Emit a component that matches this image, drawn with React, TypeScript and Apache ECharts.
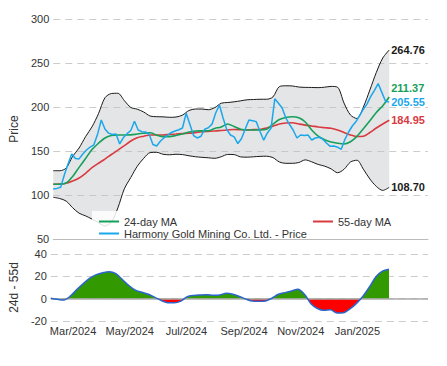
import React, { useEffect, useRef } from 'react';
import * as echarts from 'echarts';

// ---- time layout of the data ----
const startYear = 2024;
const startMonth = 1; // February (0-based)
const startDay = 6;
const priceStepDays = 4;
const weeklyStepDays = 7;
const axisEndDays = 406;
const tickLabelDates = ['2024-03-01', '2024-05-01', '2024-07-01', '2024-09-01', '2024-11-01', '2025-01-01'];
const monthNames = ['Jan', 'Feb', 'Mar', 'Apr', 'May', 'Jun', 'Jul', 'Aug', 'Sep', 'Oct', 'Nov', 'Dec'];

// ---- series values ----
const price = [
  106.8, 107.5, 108.7, 122.7, 135.2, 146.6, 141.4, 141, 146.6, 151.1,
  154.5, 157, 168.9, 185.2, 175, 170.3, 168.8, 169.3, 158, 165.3,
  169.7, 173.3, 183.8, 173.9, 172, 171.6, 168.8, 157.4, 155.7, 161,
  165, 168, 171.1, 172.7, 174.2, 176.1, 192.8, 180.3, 167.5, 164.8,
  166.7, 174.7, 176.4, 180.5, 193.2, 202.3, 187.5, 174.3, 168.2, 166,
  158.5, 164.2, 175, 185.2, 184.5, 183.3, 172.2, 162.3, 170.5, 176.1,
  209.3, 204.2, 198.9, 187.5, 180.1, 173.6, 164.8, 168.2, 167.5, 168.2,
  162.5, 164.8, 165.6, 163.4, 159.1, 155.3, 155.7, 154.3, 151.9, 163.3,
  171.6, 178.4, 183.5, 190.6, 197.5, 203.6, 212, 218.9, 226.6, 216.6,
  206.5, 205.55,
];

const upperBand = [
  127.6, 127.6, 130.6, 143.9, 153.4, 166.3, 177.5, 192.4, 210.5, 215.3,
  215.6, 207.3, 199.5, 197.5, 194.3, 189.7, 189, 188.8, 188.3, 188.6,
  190.8, 196, 197.7, 197.7, 196.9, 199.3, 204.3, 205.1, 205.9, 207,
  208.2, 208.5, 208.8, 208.8, 211.4, 223.2, 224.1, 223.9, 222.7, 222.3,
  222.2, 222, 222.5, 223.4, 222.5, 204.5, 190.9, 186.9, 200, 219.3,
  239.2, 255.7, 264.76,
];

const lowerBand = [
  97.4, 96, 93.1, 85.5, 79.3, 76.3, 72.6, 68.6, 64.8, 69.1,
  85.3, 107, 119.9, 132.6, 141.7, 148.2, 148.5, 146.3, 145.7, 146.3,
  145.9, 144.6, 143.5, 142.8, 142.3, 141.7, 143.5, 146.1, 145.9, 143.3,
  143, 143.4, 143.9, 144.1, 142.5, 137.5, 136, 136, 136.9, 139.9,
  137.7, 134.7, 132.8, 129.7, 125.3, 129.2, 137.5, 139.5, 129.3, 118.2,
  109.8, 105.2, 108.7,
];

const ma24 = [
  112.2, 112.3, 113.6, 121, 131.4, 141.5, 151.6, 158.8, 164.8, 167.7,
  168.2, 168.2, 168.3, 169.3, 170.1, 170.7, 168.1, 166.3, 166.3, 167.7,
  169.3, 171.5, 172.7, 172.9, 173, 175.6, 177.3, 180.7, 177.8, 174.7,
  173.9, 173.9, 173.9, 174.7, 180.5, 185.7, 188.1, 188.9, 187.7, 183,
  173.9, 166.8, 162.8, 160.2, 158.8, 158, 160.5, 166.6, 175.3, 184.3,
  193.8, 201.5, 211.37,
];

const ma55 = [
  112.2, 112.4, 113.3, 115.8, 119.3, 124.7, 131, 136.1, 140.8, 146,
  151, 156.1, 161.3, 165.1, 166.8, 168.2, 168.2, 168.2, 168.8, 169.3,
  169.8, 170.1, 170.9, 171.9, 172.3, 172.7, 173.3, 173.9, 174.5, 174.2,
  173.9, 174.3, 174.5, 176.1, 178.1, 180.7, 181.8, 182.1, 180.7, 179.4,
  178.4, 177.3, 176.5, 175.8, 173.9, 171, 168.3, 166.4, 166.8, 171,
  176.1, 180.7, 184.95,
];

const maDiff = [
  0.3, -0.6, -1.2, 2.2, 8.1, 13.5, 18.4, 21.5, 23.3, 24.2,
  22.4, 17.2, 11.8, 7.6, 5.7, 3.9, 1.1, -1.7, -3.6, -3.7,
  -2.2, 1.8, 2.9, 3.3, 3.5, 3, 3.3, 4.9, 4, 2,
  -0.4, -2.2, -2.4, -2, 0.4, 3.9, 5.4, 6.8, 8.5, 4,
  -4.5, -8.8, -10.4, -9.9, -12.8, -12.6, -9.2, -4.2, 2.2, 10.5,
  19.7, 24.7, 26.42,
];

const PRICE_NAME = 'Harmony Gold Mining Co. Ltd. - Price';
const MA24_NAME = '24-day MA';
const MA55_NAME = '55-day MA';

const pad = (n: number) => (n < 10 ? '0' + n : '' + n);
const dayKey = (d: number) => {
  const dt = new Date(startYear, startMonth, startDay + d);
  return dt.getFullYear() + '-' + pad(dt.getMonth() + 1) + '-' + pad(dt.getDate());
};
const allDays = Array.from({ length: axisEndDays + 1 }, (_, d) => dayKey(d));

const weekly = (arr: number[]) => arr.map((v, i) => [dayKey(i * weeklyStepDays), v]);
const fmt2 = (p: any) => Number(p.value[1]).toFixed(2);

export default function App() {
  const ref = useRef<HTMLDivElement>(null);

  useEffect(() => {
    if (!ref.current) return;
    const chart = echarts.init(ref.current, undefined, { renderer: 'svg' });
    const font = 'Liberation Sans, Arial, sans-serif';

    const endLabel = (color: string, offset: number[] = [0, 0]) => ({
      show: true,
      formatter: fmt2,
      color,
      fontWeight: 'bold',
      fontSize: 11,
      fontFamily: font,
      distance: 2,
      offset,
    });

    const splitLine = { show: true, lineStyle: { color: '#cccccc', type: [7, 5], width: 1 } };
    const sm = 0.3;

    const option: any = {
      animation: false,
      textStyle: { fontFamily: font },
      grid: [
        { left: 49, right: 19, top: 19, height: 220 },
        { left: 49, right: 19, top: 254, height: 67 },
      ],
      xAxis: [
        {
          type: 'category', gridIndex: 0, data: allDays, boundaryGap: false,
          axisLabel: { show: false }, axisTick: { show: false },
          axisLine: { show: true, onZero: false, lineStyle: { color: '#bbbbbb' } },
          splitLine: { show: false },
        },
        {
          type: 'category', gridIndex: 1, data: allDays, boundaryGap: false,
          axisLabel: {
            interval: (_i: number, v: string) => tickLabelDates.indexOf(v) >= 0,
            formatter: (v: string) => {
              const [y, m] = v.split('-').map(Number);
              return monthNames[m - 1] + '/' + y;
            },
            fontSize: 11, color: '#333', margin: 4, fontFamily: font,
          },
          axisTick: { show: false },
          axisLine: { show: false, onZero: false },
          splitLine: { show: false },
        },
      ],
      yAxis: [
        {
          type: 'value', gridIndex: 0, min: 50, max: 300, interval: 50,
          name: 'Price', nameLocation: 'middle', nameGap: 21,
          nameTextStyle: { fontSize: 12, color: '#333', fontFamily: font },
          axisLabel: { fontSize: 11, color: '#333', margin: 4, fontFamily: font },
          axisLine: { show: false }, axisTick: { show: false },
          splitLine,
        },
        {
          type: 'value', gridIndex: 1, min: -20, max: 40, interval: 20,
          name: '24d - 55d', nameLocation: 'middle', nameGap: 17,
          nameTextStyle: { fontSize: 12, color: '#333', fontFamily: font },
          axisLabel: { fontSize: 11, color: '#333', margin: 4, fontFamily: font },
          axisLine: { show: false }, axisTick: { show: false },
          splitLine,
        },
      ],
      legend: [
        {
          data: [MA24_NAME, PRICE_NAME], orient: 'vertical', left: 94, top: 211,
          icon: 'rect', itemWidth: 20, itemHeight: 2, itemGap: 1, z: 20,
          textStyle: { fontSize: 11, color: '#333', fontFamily: font },
        },
        {
          data: [MA55_NAME], orient: 'vertical', left: 308, top: 211,
          icon: 'rect', itemWidth: 20, itemHeight: 2, itemGap: 1, z: 20,
          textStyle: { fontSize: 11, color: '#333', fontFamily: font },
        },
      ],
      graphic: [
        {
          type: 'rect', z: 15,
          shape: { x: 92, y: 211, width: 300, height: 28 },
          style: { fill: 'rgba(255,255,255,0.85)' },
          silent: true,
        },
      ],
      visualMap: {
        type: 'piecewise', show: false, seriesIndex: 7, dimension: 1,
        pieces: [
          { min: -1000, max: 0, color: '#ff0000' },
          { min: 0, max: 1000, color: '#339900' },
        ],
      },
      series: [
        {
          name: 'bandBase', type: 'line', xAxisIndex: 0, yAxisIndex: 0, stack: 'band',
          data: weekly(lowerBand), symbol: 'none', smooth: sm, lineStyle: { opacity: 0 }, silent: true,
        },
        {
          name: 'bandFill', type: 'line', xAxisIndex: 0, yAxisIndex: 0, stack: 'band',
          data: upperBand.map((v, i) => [dayKey(i * weeklyStepDays), v - lowerBand[i]]),
          symbol: 'none', smooth: sm, lineStyle: { opacity: 0 },
          areaStyle: { color: 'rgba(190,193,198,0.42)', opacity: 1 }, silent: true,
        },
        {
          name: 'upper', type: 'line', xAxisIndex: 0, yAxisIndex: 0, data: weekly(upperBand),
          symbol: 'none', smooth: sm, lineStyle: { color: '#1a1a1a', width: 1 }, endLabel: endLabel('#1a1a1a'),
        },
        {
          name: 'lower', type: 'line', xAxisIndex: 0, yAxisIndex: 0, data: weekly(lowerBand),
          symbol: 'none', smooth: sm, lineStyle: { color: '#1a1a1a', width: 1 }, endLabel: endLabel('#1a1a1a'),
        },
        {
          name: MA55_NAME, type: 'line', xAxisIndex: 0, yAxisIndex: 0, data: weekly(ma55),
          symbol: 'none', smooth: sm, color: '#d93a3f', lineStyle: { color: '#d93a3f', width: 1.6 },
          endLabel: endLabel('#d93a3f'),
        },
        {
          name: MA24_NAME, type: 'line', xAxisIndex: 0, yAxisIndex: 0, data: weekly(ma24),
          symbol: 'none', smooth: sm, color: '#17a05a', lineStyle: { color: '#17a05a', width: 1.6 },
          endLabel: endLabel('#17a05a', [0, -9]),
        },
        {
          name: PRICE_NAME, type: 'line', xAxisIndex: 0, yAxisIndex: 0,
          data: price.map((v, i) => [dayKey(i * priceStepDays), v]),
          symbol: 'none', color: '#1aa7ec', lineStyle: { color: '#1aa7ec', width: 1.5 },
          endLabel: endLabel('#1aa7ec'),
        },
        {
          name: 'diffArea', type: 'line', xAxisIndex: 1, yAxisIndex: 1, data: weekly(maDiff),
          symbol: 'none', smooth: sm, lineStyle: { width: 0 }, areaStyle: { opacity: 1 }, silent: true,
        },
        {
          name: 'diffLine', type: 'line', xAxisIndex: 1, yAxisIndex: 1, data: weekly(maDiff),
          symbol: 'none', smooth: sm, color: '#2a66cc', lineStyle: { color: '#2a66cc', width: 1.5 }, z: 5,
          markLine: {
            silent: true, symbol: ['none', 'none'], label: { show: false },
            lineStyle: { color: '#aaaaaa', type: 'solid', width: 1.5 },
            data: [{ yAxis: 0 }],
          },
        },
      ],
    };

    chart.setOption(option);
    return () => chart.dispose();
  }, []);

  return (
    <div
      ref={ref}
      style={{ position: 'fixed', left: 0, top: 0, width: 447, height: 366, background: '#fff' }}
    />
  );
}
